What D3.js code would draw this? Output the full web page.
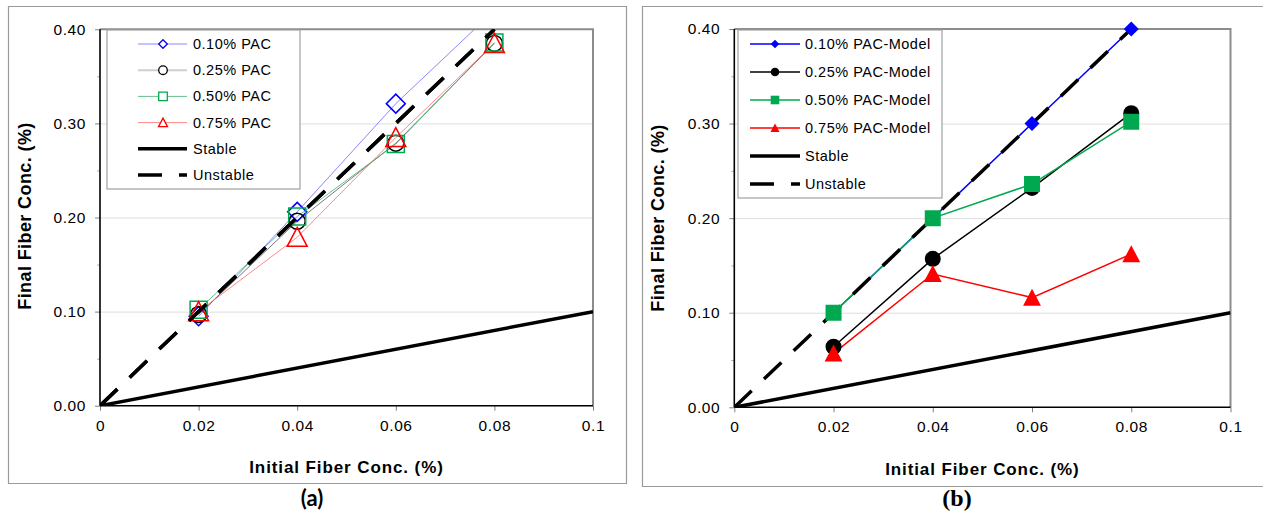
<!DOCTYPE html>
<html>
<head>
<meta charset="utf-8">
<title>Final vs Initial Fiber Conc.</title>
<script src="https://d3js.org/d3.v7.min.js"></script>
<style>
  body { margin: 0; background: #ffffff; }
  .serif { font-family: "Liberation Serif", "DejaVu Serif", "Times New Roman", serif !important; }
</style>
</head>
<body>
<script>
// ---- data ----
var xVals = [0.02, 0.04, 0.06, 0.08];

// panel (a): measured
var aPac010 = [0.095, 0.206, 0.321, 0.42];
var aPac025 = [0.097, 0.196, 0.279, 0.385];
var aPac050 = [0.102, 0.201, 0.278, 0.386];
var aPac075 = [0.100, 0.179, 0.285, 0.385];

// panel (b): model
var bPac010 = [0.10, 0.20, 0.30, 0.40];
var bPac025 = [0.064, 0.157, 0.232, 0.311];
var bPac050 = [0.10, 0.20, 0.236, 0.302];
var bPac075 = [0.057, 0.141, 0.116, 0.162];

// reference lines
var stableX = [0, 0.1],   stableY = [0, 0.1];
var unstableX = [0, 0.08], unstableY = [0, 0.4];

var xTicks = [0, 0.02, 0.04, 0.06, 0.08, 0.1];
var yTicks = [0, 0.1, 0.2, 0.3, 0.4];
var yMinor = [0.05, 0.15, 0.25, 0.35];

var namesA = ["0.10% PAC", "0.25% PAC", "0.50% PAC", "0.75% PAC"];
var namesB = ["0.10% PAC-Model", "0.25% PAC-Model", "0.50% PAC-Model", "0.75% PAC-Model"];

var w = 1263, h = 520;
var sans = "'Liberation Sans', Arial, sans-serif";
var svg = d3.select("body").append("svg").attr("width", w).attr("height", h)
  .style("font-family", sans);

// marker paths, r = half size in px
function markerPath(shape, r) {
  if (shape == "diamond") return "M0," + (-r) + "L" + r + ",0L0," + r + "L" + (-r) + ",0Z";
  if (shape == "square") return "M" + (-r) + "," + (-r) + "H" + r + "V" + r + "H" + (-r) + "Z";
  if (shape == "triangle") return "M0," + (-r * 1.05) + "L" + (r * 1.05) + "," + (r * 0.95) + "L" + (-r * 1.05) + "," + (r * 0.95) + "Z";
  return d3.symbol(d3.symbolCircle, Math.PI * r * r)();
}

function drawPanel(cfg) {
  var x = d3.scaleLinear().domain([0, 0.1]).range([cfg.x0, cfg.x1]);
  var y = d3.scaleLinear().domain([0, 0.4]).range([cfg.y0, cfg.y1]);
  var g = svg.append("g");

  // outer frame
  g.append("path")
    .attr("d", "M" + cfg.frame[0] + "," + cfg.frame[1] + "H" + cfg.frame[2] + "V" + cfg.frame[3] + "H" + cfg.frame[0] + "Z")
    .attr("fill", "none").attr("stroke", "#9a9a9a").attr("stroke-width", 1.2);

  // gridlines
  g.append("g").attr("transform", "translate(" + cfg.x0 + ",0)")
    .call(d3.axisLeft(y).tickValues([0.1, 0.2, 0.3]).tickSize(-(cfg.x1 - cfg.x0)).tickFormat(""))
    .call(function(s) { s.select(".domain").remove(); s.selectAll("line").attr("stroke", "#dedede").attr("stroke-width", 1); });

  // plot area top/right border
  g.append("path")
    .attr("d", "M" + cfg.x0 + "," + y(0.4) + "H" + cfg.x1 + "V" + y(0))
    .attr("fill", "none").attr("stroke", "#8c8c8c").attr("stroke-width", 2);

  // minor y ticks
  g.append("g").attr("transform", "translate(" + cfg.x0 + ",0)")
    .call(d3.axisLeft(y).tickValues(yMinor).tickSize(3).tickFormat(""))
    .call(function(s) { s.select(".domain").remove(); s.selectAll("line").attr("stroke", "#b0b0b0"); });

  // y axis
  g.append("g").attr("transform", "translate(" + cfg.x0 + ",0)")
    .call(d3.axisLeft(y).tickValues(yTicks).tickSize(5).tickPadding(9).tickFormat(d3.format(".2f")))
    .call(function(s) {
      s.select(".domain").remove();
      s.selectAll("line").attr("stroke", "#808080");
      s.selectAll("text").attr("font-size", 15.5).style("letter-spacing", "0.6px")
        .style("font-family", sans).attr("fill", "#000");
    });

  // x axis
  g.append("g").attr("transform", "translate(0," + cfg.y0 + ")")
    .call(d3.axisBottom(x).tickValues(xTicks).tickSize(5).tickPadding(9).tickFormat(d3.format(".2~f")))
    .call(function(s) {
      s.select(".domain").remove();
      s.selectAll("line").attr("stroke", "#808080");
      s.selectAll("text").attr("font-size", 15.5).style("letter-spacing", "0.6px")
        .style("font-family", sans).attr("fill", "#000");
    });

  // axis lines
  g.append("line").attr("x1", cfg.x0).attr("x2", cfg.x0).attr("y1", y(0)).attr("y2", y(0.4))
    .attr("stroke", "#000").attr("stroke-width", 1.6);
  g.append("line").attr("x1", cfg.x0).attr("x2", cfg.x1).attr("y1", y(0)).attr("y2", y(0))
    .attr("stroke", "#000").attr("stroke-width", 1.6);

  // clip
  var clipId = "clip" + cfg.id;
  svg.append("clipPath").attr("id", clipId).append("rect")
    .attr("x", cfg.x0).attr("y", y(0.4) - 12).attr("width", cfg.x1 - cfg.x0 + 12).attr("height", y(0) - y(0.4) + 12);
  var lineClip = "lc" + cfg.id;
  svg.append("clipPath").attr("id", lineClip).append("rect")
    .attr("x", cfg.x0).attr("y", y(0.4)).attr("width", cfg.x1 - cfg.x0).attr("height", y(0) - y(0.4));

  var line = d3.line().x(function(d) { return x(d[0]); }).y(function(d) { return y(d[1]); });
  var lines = g.append("g").attr("clip-path", "url(#" + lineClip + ")");

  cfg.series.forEach(function(s) {
    lines.append("path").datum(d3.zip(xVals, s.values))
      .attr("d", line).attr("fill", "none")
      .attr("stroke", s.line).attr("stroke-width", cfg.lineW);
  });

  // stable / unstable on top of series lines
  lines.append("path").datum(d3.zip(stableX, stableY)).attr("d", line)
    .attr("fill", "none").attr("stroke", "#000").attr("stroke-width", 3.5);
  lines.append("path").datum(d3.zip(unstableX, unstableY)).attr("d", line)
    .attr("fill", "none").attr("stroke", "#000").attr("stroke-width", 3.5)
    .attr("stroke-dasharray", "24,17");

  var marks = g.append("g").attr("clip-path", "url(#" + clipId + ")");
  cfg.series.forEach(function(s) {
    marks.selectAll(null).data(d3.zip(xVals, s.values).filter(function(d) { return d[1] <= 0.4; }))
      .enter().append("path")
      .attr("transform", function(d) { return "translate(" + x(d[0]) + "," + y(d[1]) + ")"; })
      .attr("d", markerPath(s.shape, s.r))
      .attr("fill", cfg.filled ? s.color : "none")
      .attr("stroke", s.color).attr("stroke-width", cfg.filled ? 0 : 1.5);
  });

  // dashes sit over the hollow markers in (a)
  if (!cfg.filled) {
    g.append("g").attr("clip-path", "url(#" + lineClip + ")")
      .append("path").datum(d3.zip(unstableX, unstableY)).attr("d", line)
      .attr("fill", "none").attr("stroke", "#000").attr("stroke-width", 3.5)
      .attr("stroke-dasharray", "24,17");
  }

  // legend
  var L = cfg.legend;
  var lg = g.append("g");
  lg.append("rect").attr("x", L.x).attr("y", L.y).attr("width", L.w).attr("height", L.h)
    .attr("fill", "#fff").attr("stroke", "#a0a0a0").attr("stroke-width", 1.2);
  var items = cfg.series.map(function(s, i) { return { name: cfg.names[i], s: s }; });
  items.push({ name: "Stable", ref: "solid" });
  items.push({ name: "Unstable", ref: "dash" });
  items.forEach(function(it, i) {
    var yy = L.row0 + i * L.step;
    var ln = lg.append("line").attr("x1", L.lx0).attr("x2", L.lx1).attr("y1", yy).attr("y2", yy);
    if (it.s) {
      ln.attr("stroke", it.s.legLine || it.s.line).attr("stroke-width", it.s.legW || cfg.lineW);
      lg.append("path").attr("transform", "translate(" + L.mx + "," + yy + ")")
        .attr("d", markerPath(it.s.shape, L.mr))
        .attr("fill", cfg.filled ? it.s.color : "#fff")
        .attr("stroke", it.s.color).attr("stroke-width", cfg.filled ? 0 : 1.3);
    } else {
      ln.attr("stroke", "#000").attr("stroke-width", 3.5);
      if (it.ref == "dash") ln.attr("stroke-dasharray", "24,17");
    }
    lg.append("text").attr("x", L.tx).attr("y", yy).attr("dy", "0.35em")
      .attr("font-size", 14.5).style("letter-spacing", "0.5px").text(it.name);
  });

  // axis titles
  g.append("text").attr("x", (cfg.x0 + cfg.x1) / 2).attr("y", cfg.xTitleY)
    .attr("text-anchor", "middle").attr("font-size", 17).attr("font-weight", "bold")
    .style("letter-spacing", "0.9px").text("Initial Fiber Conc. (%)");
  g.append("text").attr("transform", "translate(" + cfg.yTitleX + "," + cfg.yTitleY + ") rotate(-90)")
    .attr("text-anchor", "middle").attr("dy", "0.35em").attr("font-size", 18).attr("font-weight", "bold")
    .style("letter-spacing", "0.4px").text("Final Fiber Conc. (%)");

  // panel label
  var lab = g.append("text").attr("x", cfg.labelX).attr("y", 498).attr("dy", "0.35em")
    .attr("text-anchor", "middle").attr("font-weight", "bold")
    .attr("font-size", cfg.labelSize)
    .text(cfg.label);
  if (cfg.labelSerif) lab.attr("class", "serif");
  else lab.style("font-family", "Lato, 'Open Sans', sans-serif");
}

drawPanel({
  id: "a", x0: 100, x1: 593, y0: 405.7, y1: 29.3,
  frame: [8.5, 6.5, 626.5, 483.5],
  filled: false, lineW: 0.8,
  names: namesA,
  series: [
    { values: aPac010, color: "#0000ff", line: "#6a6aff", shape: "diamond", r: 9.5 },
    { values: aPac025, color: "#000000", line: "#555555", legLine: "#cfcfcf", legW: 2, shape: "circle", r: 8 },
    { values: aPac050, color: "#00a850", line: "#3fae6e", shape: "square", r: 8.5 },
    { values: aPac075, color: "#ff0000", line: "#ff6a6a", shape: "triangle", r: 9.5 }
  ],
  legend: { x: 107, y: 30, w: 193, h: 159, row0: 44, step: 26.2, lx0: 138, lx1: 187, mx: 163, mr: 4.3, tx: 193 },
  xTitleY: 473, yTitleX: 25, yTitleY: 216,
  label: "(a)", labelX: 312, labelSize: 22, labelSerif: false
});

drawPanel({
  id: "b", x0: 734.3, x1: 1230.5, y0: 407.3, y1: 29,
  frame: [642.5, 6.5, 1275, 486.5],
  filled: true, lineW: 1.5,
  names: namesB,
  series: [
    { values: bPac010, color: "#0000ff", line: "#0000ff", shape: "diamond", r: 7.5 },
    { values: bPac025, color: "#000000", line: "#000000", shape: "circle", r: 8 },
    { values: bPac050, color: "#00a84f", line: "#00a84f", shape: "square", r: 8 },
    { values: bPac075, color: "#ff0000", line: "#ff0000", shape: "triangle", r: 8.5 }
  ],
  legend: { x: 738, y: 30, w: 204, h: 168, row0: 44, step: 28, lx0: 750, lx1: 800, mx: 775, mr: 4.3, tx: 805 },
  xTitleY: 475, yTitleX: 658, yTitleY: 218,
  label: "(b)", labelX: 957, labelSize: 24, labelSerif: true
});
</script>
</body>
</html>
